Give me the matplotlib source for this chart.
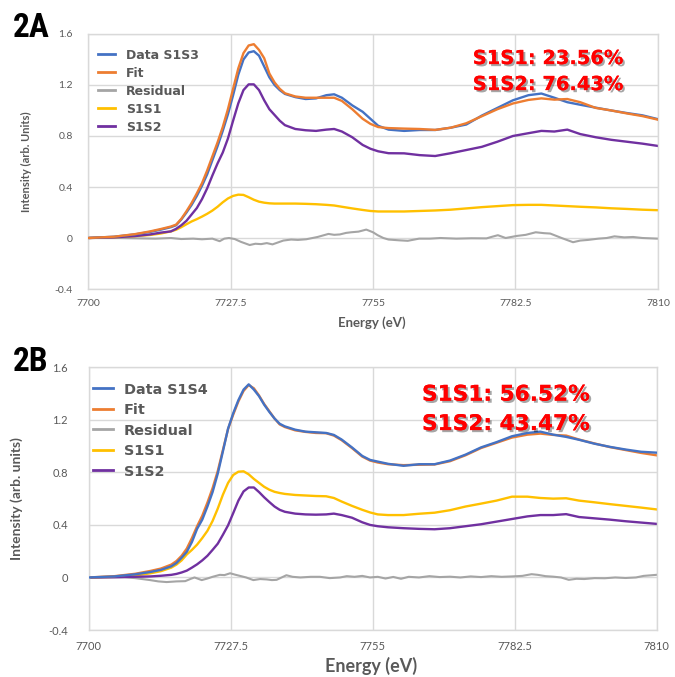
import matplotlib
matplotlib.use("Agg")
import matplotlib.pyplot as plt
import matplotlib.patheffects as pe
from matplotlib import font_manager

# energy grid shared by the smooth curves (eV)
energy = [7700, 7705, 7709, 7712, 7714, 7716, 7717, 7718, 7719, 7720, 7721, 7722, 7723,
          7724, 7725, 7726, 7727, 7728, 7729, 7730, 7731, 7732, 7733, 7734, 7735, 7736,
          7737, 7738, 7740, 7742, 7744, 7746, 7747.5, 7749, 7751, 7753, 7754.5, 7756,
          7758, 7761, 7764, 7767, 7770, 7773, 7776, 7779, 7782, 7785, 7787.5, 7790,
          7792.5, 7795, 7798, 7801, 7804, 7807, 7810]

# ---- panel 2A ----
a_data = [0.0, 0.01, 0.028, 0.048, 0.065, 0.085, 0.10, 0.145, 0.20, 0.26, 0.33, 0.41, 0.50,
          0.61, 0.72, 0.84, 0.97, 1.12, 1.28, 1.40, 1.455, 1.465, 1.43, 1.345, 1.26, 1.20,
          1.16, 1.13, 1.105, 1.09, 1.095, 1.12, 1.127, 1.10, 1.04, 0.99, 0.935, 0.88,
          0.85, 0.84, 0.847, 0.847, 0.865, 0.89, 0.96, 1.02, 1.08, 1.12, 1.133, 1.10,
          1.065, 1.045, 1.022, 1.0, 0.98, 0.962, 0.932]
a_fit = [0.0, 0.01, 0.03, 0.052, 0.07, 0.09, 0.105, 0.15, 0.21, 0.275, 0.35, 0.43, 0.53,
         0.64, 0.75, 0.87, 1.01, 1.17, 1.33, 1.45, 1.51, 1.52, 1.475, 1.41, 1.29, 1.22,
         1.17, 1.135, 1.11, 1.10, 1.10, 1.10, 1.10, 1.075, 1.01, 0.935, 0.895, 0.87,
         0.862, 0.858, 0.855, 0.848, 0.865, 0.90, 0.955, 1.01, 1.055, 1.083, 1.095, 1.085,
         1.09, 1.065, 1.02, 1.0, 0.977, 0.956, 0.928]
a_s1s1 = [0.0, 0.006, 0.014, 0.024, 0.035, 0.052, 0.065, 0.085, 0.108, 0.13, 0.148, 0.168,
          0.19, 0.215, 0.245, 0.28, 0.31, 0.33, 0.34, 0.338, 0.32, 0.30, 0.285, 0.277,
          0.272, 0.27, 0.27, 0.27, 0.27, 0.268, 0.265, 0.26, 0.255, 0.245, 0.232, 0.22,
          0.212, 0.208, 0.208, 0.208, 0.212, 0.216, 0.222, 0.232, 0.242, 0.25, 0.258,
          0.26, 0.26, 0.255, 0.25, 0.245, 0.24, 0.233, 0.228, 0.222, 0.218]
a_s1s2 = [0.0, 0.005, 0.015, 0.028, 0.042, 0.052, 0.072, 0.10, 0.135, 0.185, 0.235, 0.305,
          0.39, 0.49, 0.585, 0.67, 0.78, 0.92, 1.056, 1.16, 1.205, 1.205, 1.16, 1.08, 1.01,
          0.965, 0.92, 0.885, 0.855, 0.845, 0.84, 0.85, 0.855, 0.835, 0.79, 0.73, 0.70,
          0.68, 0.665, 0.664, 0.65, 0.643, 0.665, 0.69, 0.715, 0.755, 0.80, 0.822, 0.84,
          0.835, 0.85, 0.815, 0.79, 0.77, 0.755, 0.74, 0.722]
a_res_x = [7700, 7706, 7713, 7716, 7718, 7720.3, 7722, 7724, 7725.4, 7726.3, 7727.2, 7728.3,
           7729.5, 7731.2, 7732.3, 7733.4, 7734.5, 7735.6, 7737.7, 7739.2, 7740.5, 7742.1,
           7744.3, 7746.4, 7747.5, 7748.6, 7749.8, 7750.8, 7752.2, 7753.7, 7755, 7755.9,
           7757, 7758, 7760, 7761.7, 7763.9, 7766, 7768, 7771.1, 7774, 7776.9, 7778,
           7779.1, 7780.6, 7782.7, 7784.5, 7786.4, 7788, 7789.2, 7791.4, 7793.6, 7795,
           7796.5, 7798.5, 7800.1, 7801.6, 7803.5, 7805.2, 7807, 7810]
a_res = [0.0, 0.0, -0.005, 0.0, -0.008, -0.005, -0.01, -0.005, -0.025, -0.005, 0.0, -0.008,
         -0.03, -0.055, -0.045, -0.048, -0.04, -0.05, -0.02, -0.012, -0.015, -0.01, 0.008,
         0.032, 0.025, 0.028, 0.04, 0.045, 0.05, 0.066, 0.045, 0.022, 0.0, -0.012, -0.018,
         -0.022, -0.005, -0.005, 0.0, -0.005, -0.002, -0.003, 0.01, 0.022, 0.0, 0.016,
         0.025, 0.045, 0.038, 0.035, 0.0, -0.033, -0.02, -0.015, -0.005, 0.0, 0.013, 0.005,
         0.008, 0.0, -0.005]

# ---- panel 2B ----
b_data = [0.0, 0.008, 0.024, 0.042, 0.058, 0.085, 0.11, 0.15, 0.195, 0.27, 0.37, 0.44, 0.54,
          0.65, 0.79, 0.96, 1.133, 1.25, 1.35, 1.43, 1.47, 1.43, 1.38, 1.315, 1.26, 1.21,
          1.17, 1.15, 1.125, 1.11, 1.105, 1.10, 1.085, 1.05, 0.99, 0.925, 0.895, 0.882,
          0.865, 0.85, 0.862, 0.862, 0.89, 0.935, 0.99, 1.03, 1.075, 1.10, 1.11, 1.087,
          1.07, 1.048, 1.018, 0.994, 0.974, 0.957, 0.95]
b_fit = [0.0, 0.01, 0.028, 0.05, 0.068, 0.098, 0.125, 0.165, 0.22, 0.30, 0.39, 0.47, 0.57,
         0.68, 0.81, 0.97, 1.13, 1.24, 1.34, 1.42, 1.465, 1.44, 1.385, 1.32, 1.265, 1.21,
         1.165, 1.145, 1.12, 1.108, 1.10, 1.098, 1.08, 1.045, 0.985, 0.92, 0.89, 0.875,
         0.862, 0.855, 0.858, 0.86, 0.885, 0.93, 0.985, 1.025, 1.065, 1.087, 1.095, 1.085,
         1.08, 1.05, 1.02, 0.992, 0.97, 0.948, 0.93]
b_s1s1 = [0.0, 0.005, 0.015, 0.032, 0.048, 0.075, 0.098, 0.13, 0.175, 0.21, 0.25, 0.30,
          0.355, 0.43, 0.524, 0.63, 0.72, 0.78, 0.805, 0.808, 0.785, 0.75, 0.72, 0.69,
          0.668, 0.652, 0.643, 0.636, 0.628, 0.624, 0.62, 0.618, 0.605, 0.578, 0.545,
          0.515, 0.495, 0.48, 0.475, 0.475, 0.485, 0.493, 0.512, 0.54, 0.562, 0.585,
          0.615, 0.615, 0.605, 0.60, 0.603, 0.585, 0.572, 0.558, 0.545, 0.532, 0.518]
b_s1s2 = [0.0, 0.002, 0.005, 0.008, 0.013, 0.02, 0.027, 0.038, 0.052, 0.075, 0.10, 0.13,
          0.165, 0.21, 0.257, 0.325, 0.397, 0.49, 0.585, 0.655, 0.685, 0.685, 0.65, 0.61,
          0.574, 0.54, 0.515, 0.50, 0.486, 0.48, 0.478, 0.48, 0.486, 0.475, 0.455, 0.42,
          0.40, 0.39, 0.382, 0.375, 0.37, 0.367, 0.375, 0.39, 0.405, 0.425, 0.445, 0.465,
          0.475, 0.475, 0.482, 0.46, 0.45, 0.44, 0.428, 0.418, 0.408]
b_res_x = [7700, 7707, 7709, 7711.9, 7713.5, 7715.1, 7717, 7718.7, 7719.8, 7720.5, 7721.2,
           7721.9, 7723, 7724, 7725.4, 7726.3, 7727.4, 7728.3, 7729.3, 7730.5, 7731.9,
           7733.2, 7734.5, 7735.5, 7736.4, 7738.3, 7739.5, 7741, 7743, 7744.8, 7746.7,
           7748.7, 7750, 7751.5, 7753, 7754.5, 7756, 7757.5, 7759, 7760.5, 7762, 7764,
           7766, 7768, 7770, 7772, 7774, 7776, 7778, 7780, 7782, 7784, 7785.8, 7787,
           7788.5, 7790, 7791.5, 7793, 7794.5, 7796, 7798, 7800, 7802, 7804, 7806, 7807.5,
           7810]
b_res = [0.0, 0.002, -0.005, -0.02, -0.03, -0.035, -0.03, -0.028, -0.01, 0.0, -0.01, -0.02,
         -0.008, 0.005, 0.02, 0.018, 0.032, 0.022, 0.012, 0.0, -0.02, -0.012, -0.015, -0.02,
         -0.018, 0.017, 0.005, 0.0, 0.005, 0.005, -0.005, 0.0, 0.01, 0.005, 0.012, 0.0,
         0.005, -0.008, 0.004, -0.01, 0.005, 0.0, 0.01, 0.003, 0.006, 0.0, 0.008, 0.003,
         0.01, 0.005, 0.008, 0.012, 0.025, 0.02, 0.01, 0.006, 0.0, -0.018, -0.01, -0.012,
         -0.005, -0.006, 0.0, -0.004, 0.0, 0.012, 0.02]

xticks = [7700, 7727.5, 7755, 7782.5, 7810]
xtick_labels = ["7700", "7727.5", "7755", "7782.5", "7810"]
yticks = [-0.4, 0, 0.4, 0.8, 1.2, 1.6]
ytick_labels = ["-0.4", "0", "0.4", "0.8", "1.2", "1.6"]

BLUE, ORANGE, GRAY, GOLD, PURPLE = "#4472C4", "#ED7D31", "#A5A5A5", "#FFC000", "#7030A0"
TXT = "#595959"
GRID = "#D9D9D9"
FONT = ["Lato", "DejaVu Sans"]
BOLD_FONT = ["DejaVu Sans"]

plt.rcParams["font.family"] = FONT


def has_font(name):
    try:
        font_manager.findfont(font_manager.FontProperties(family=name),
                              fallback_to_default=False)
        return True
    except ValueError:
        return False


# narrow heavy face for the panel letters, if one is around
panel_font, panel_size = "Liberation Sans", 21
for cand, size in [("Roboto Condensed", 24), ("Liberation Sans Narrow", 24),
                   ("DejaVu Sans Condensed", 21)]:
    if has_font(cand):
        panel_font, panel_size = cand, size
        break

fig = plt.figure(figsize=(6.75, 6.77), dpi=100)
ax_a = fig.add_axes([0.1304, 0.5731, 0.8444, 0.3767])
ax_b = fig.add_axes([0.1314, 0.0694, 0.8412, 0.3881])


def draw_panel(ax, data, fit, res_x, res, s1, s2, data_name, cfg):
    lw = 1.7
    ax.plot(energy, fit, color=ORANGE, lw=lw, label="Fit", zorder=cfg["fit_z"])
    ax.plot(energy, data, color=BLUE, lw=lw, label=data_name, zorder=3)
    ax.plot(res_x, res, color=GRAY, lw=1.5, label="Residual", zorder=2)
    ax.plot(energy, s1, color=GOLD, lw=lw, label="S1S1", zorder=2)
    ax.plot(energy, s2, color=PURPLE, lw=lw, label="S1S2", zorder=2)

    ax.set_xlim(7700, 7810)
    ax.set_ylim(-0.4, 1.6)
    ax.set_xticks(xticks)
    ax.set_xticklabels(xtick_labels)
    ax.set_yticks(yticks)
    ax.set_yticklabels(ytick_labels)
    ax.grid(True, color=GRID, lw=1.0, zorder=0)
    ax.set_axisbelow(True)
    for s in ax.spines.values():
        s.set_color(GRID)
        s.set_linewidth(1.0)
    ax.tick_params(length=0, colors=TXT, labelsize=cfg["tick_size"])
    ax.tick_params(axis="y", pad=cfg["ypad"])
    ax.tick_params(axis="x", pad=cfg["xpad"])

    ax.set_ylabel(cfg["ylabel"], fontsize=cfg["label_size"], color=TXT,
                  fontweight="bold")
    ax.yaxis.set_label_coords(cfg["ylab_x"], 0.5)
    xl = ax.set_xlabel("Energy (eV)", fontsize=cfg["xlabel_size"], color=TXT,
                       fontweight="bold")
    xl.set_va("center")
    ax.xaxis.set_label_coords(0.498, cfg["xlab_y"])

    handles, labels = ax.get_legend_handles_labels()
    order = [labels.index(n) for n in [data_name, "Fit", "Residual", "S1S1", "S1S2"]]
    leg = ax.legend([handles[i] for i in order], [labels[i] for i in order],
                    loc="upper left", bbox_to_anchor=cfg["leg_anchor"], frameon=False,
                    prop={"family": BOLD_FONT, "weight": "bold", "size": cfg["leg_size"]},
                    handlelength=cfg["handlelen"], handletextpad=cfg["textpad"],
                    labelspacing=cfg["labelspacing"], borderpad=0, borderaxespad=0)
    for t in leg.get_texts():
        t.set_color(TXT)
    for h in leg.get_lines():
        h.set_linewidth(2.0)

    shadow = [pe.withSimplePatchShadow(offset=(1.5, -1.5), shadow_rgbFace="black",
                                       alpha=0.35), pe.Normal()]
    for txt, yy in zip(cfg["notes"], cfg["note_y"]):
        ax.text(cfg["note_x"], yy, txt, transform=ax.transAxes, color="#FF0000",
                fontsize=cfg["note_size"], fontweight="bold", family=BOLD_FONT,
                va="baseline", ha="left", path_effects=shadow, zorder=6)


draw_panel(ax_a, a_data, a_fit, a_res_x, a_res, a_s1s1, a_s1s2, "Data S1S3", {
    "fit_z": 4, "tick_size": 7.5, "ypad": 11, "xpad": 7,
    "ylabel": "Intensity (arb. Units)", "label_size": 8, "ylab_x": -0.098,
    "xlabel_size": 9.5, "xlab_y": -0.133,
    "leg_anchor": (0.017, 0.943), "leg_size": 9, "handlelen": 1.36,
    "textpad": 0.88, "labelspacing": 0.40,
    "notes": ["S1S1: 23.56%", "S1S2: 76.43%"], "note_x": 0.675,
    "note_y": [0.882, 0.780], "note_size": 14,
})

draw_panel(ax_b, b_data, b_fit, b_res_x, b_res, b_s1s1, b_s1s2, "Data S1S4", {
    "fit_z": 2.5, "tick_size": 8, "ypad": 15, "xpad": 8,
    "ylabel": "Intensity (arb. units)", "label_size": 10, "ylab_x": -0.116,
    "xlabel_size": 13, "xlab_y": -0.137,
    "leg_anchor": (0.0076, 0.942), "leg_size": 10.4, "handlelen": 1.39,
    "textpad": 0.76, "labelspacing": 0.45,
    "notes": ["S1S1: 56.52%", "S1S2: 43.47%"], "note_x": 0.587,
    "note_y": [0.873, 0.761], "note_size": 15.6,
})

fig.text(0.019, 0.9453, "2A", fontsize=panel_size, fontweight="bold",
         family=[panel_font, "DejaVu Sans"], fontstretch="condensed",
         color="black", va="baseline")
fig.text(0.019, 0.452, "2B", fontsize=panel_size, fontweight="bold",
         family=[panel_font, "DejaVu Sans"], fontstretch="condensed",
         color="black", va="baseline")

fig.savefig("out.png", dpi=100)
